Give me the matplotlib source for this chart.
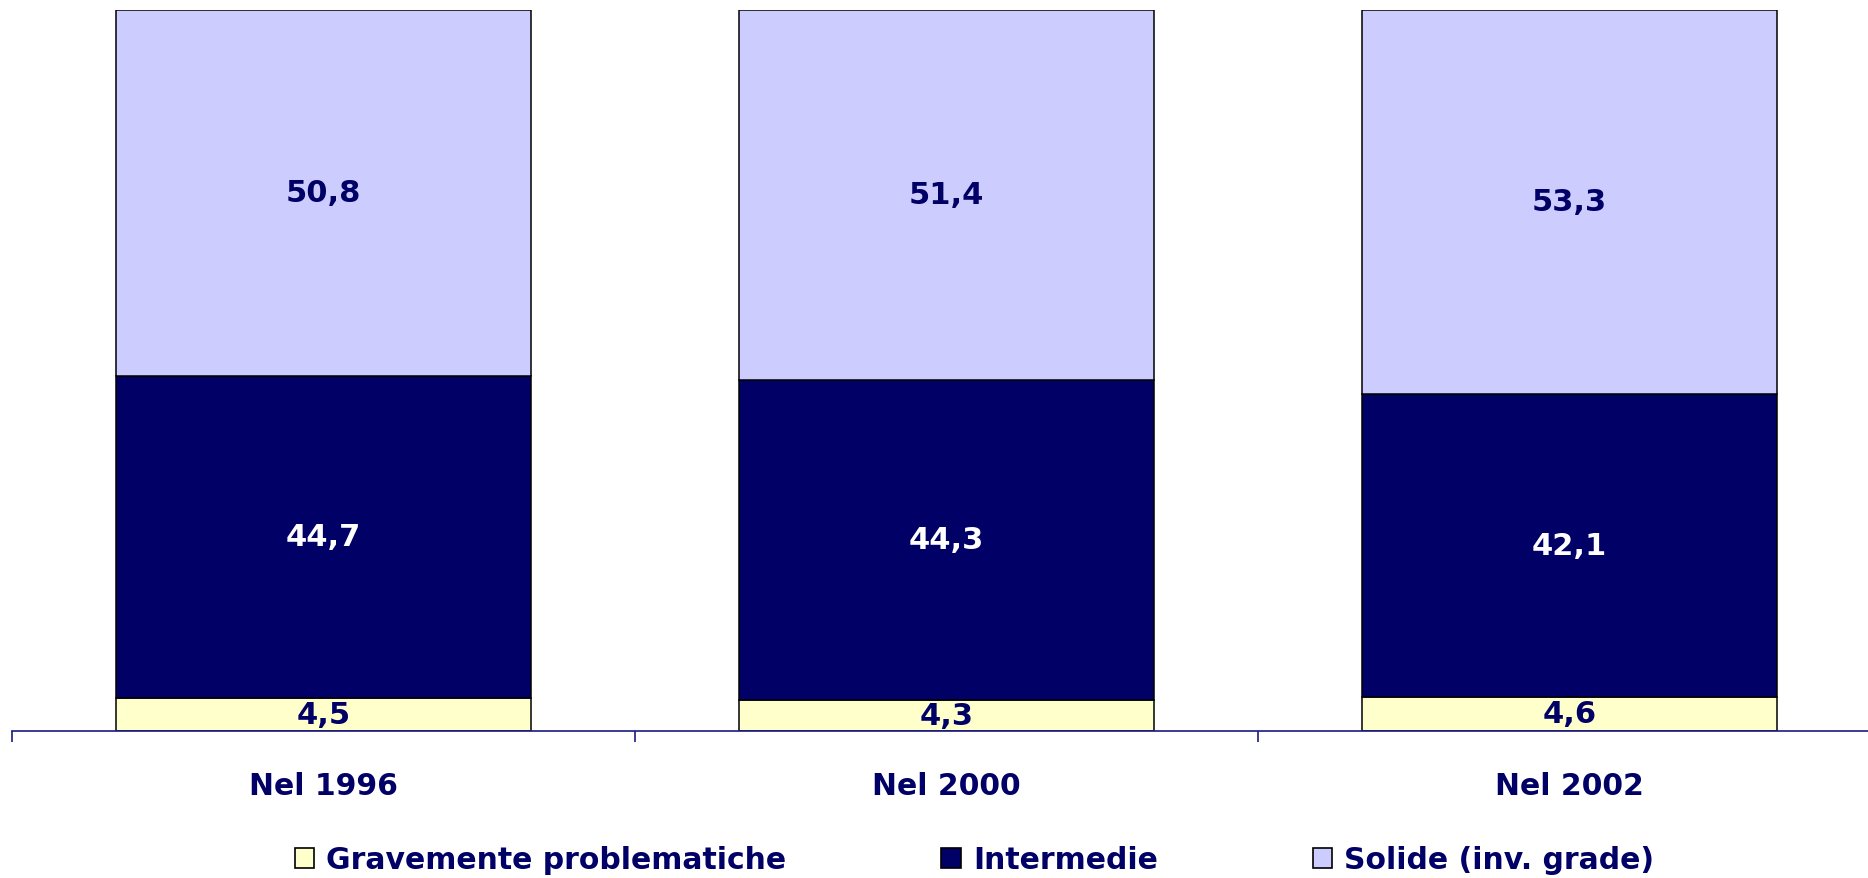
import matplotlib.pyplot as plt
from matplotlib.patches import Patch

## data
categories = ['Nel 1996', 'Nel 2000', 'Nel 2002']
gravi = [4.5, 4.3, 4.6]
intermedie = [44.7, 44.3, 42.1]
solide = [50.8, 51.4, 53.3]
series_names = ['Gravemente problematiche', 'Intermedie', 'Solide (inv. grade)']

navy = '#000066'
colors = ['#FFFFCC', '#000066', '#CCCCFF']
label_colors = [navy, 'white', navy]

plt.rcParams['font.family'] = 'DejaVu Sans'
plt.rcParams['font.weight'] = 'bold'

fig = plt.figure(figsize=(18.68, 8.79), dpi=100)
ax = fig.add_axes([12 / 1868, 0.1678, 1869 / 1868, 0.82])

x = list(range(len(categories)))
bottom = [0, 0, 0]
for vals, col, lc in zip([gravi, intermedie, solide], colors, label_colors):
    bars = ax.bar(x, vals, width=0.667, bottom=bottom, color=col,
                  edgecolor='black', linewidth=1.1, zorder=2)
    for i, b in enumerate(bars):
        ax.text(b.get_x() + b.get_width() / 2, bottom[i] + vals[i] / 2,
                f'{vals[i]:.1f}'.replace('.', ','), ha='center', va='center',
                color=lc, fontsize=22, fontweight='bold', zorder=3)
    bottom = [bo + v for bo, v in zip(bottom, vals)]

ax.set_xlim(-0.5, 2.5)
ax.set_ylim(0, 100)
for s in ['top', 'right', 'left']:
    ax.spines[s].set_visible(False)
ax.spines['bottom'].set_color('#1a1a80')
ax.spines['bottom'].set_linewidth(1.2)
ax.set_yticks([])

ax.set_xticks(x)
ax.set_xticklabels(categories, fontsize=21.5, fontweight='bold', color=navy)
ax.tick_params(axis='x', which='major', length=0, pad=29)
ax.set_xticks([-0.5, 0.5, 1.5, 2.5], minor=True)
ax.tick_params(axis='x', which='minor', length=8, width=1.2, color='#1a1a80')

handles = [Patch(facecolor=c, edgecolor='black', linewidth=1.2) for c in colors]
fig.legend(handles, series_names, loc='center', bbox_to_anchor=(0.5217, 0.021),
           ncol=3, frameon=False, handlelength=0.65, handleheight=0.65,
           handletextpad=0.4, columnspacing=5.2, borderaxespad=0, borderpad=0,
           labelcolor=navy, prop={'weight': 'bold', 'size': 21.5})

fig.savefig('out.png', dpi=100)
